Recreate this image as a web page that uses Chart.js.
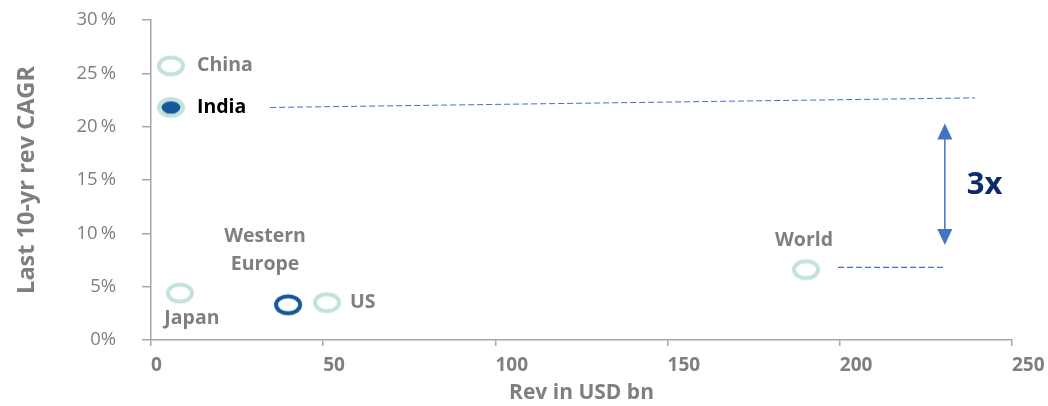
<!DOCTYPE html>
<html><head><meta charset="utf-8">
<script src="https://cdn.jsdelivr.net/npm/chart.js@4.4.1/dist/chart.umd.min.js"></script>
<style>html,body{margin:0;padding:0;background:#fff}#wrap{width:1048px;height:406px;position:relative}</style>
</head><body><div id="wrap"><canvas id="c" width="1048" height="406"></canvas></div>
<script>
const categories = ['China', 'India', 'Japan', 'Western Europe', 'US', 'World'];
const revenueUsdBn = [5.8, 5.8, 8.4, 39.8, 51.1, 190.2];
const cagrPct = [25.7, 21.8, 4.4, 3.3, 3.5, 6.6];
const xTicks = [0, 50, 100, 150, 200, 250];
const yTicks = [0, 5, 10, 15, 20, 25, 30];
const indiaGuideX = [34.6, 239.3];
const indiaGuideY = [21.8, 22.7];
const worldGuideX = [199.5, 230.5];
const worldGuideY = [6.8, 6.8];
const arrowX = 230.5;
const arrowY = [20.3, 8.9];
const multipleLabel = '3x';

const TEAL = '#c4e2db', DARK = '#15589a', GREY = '#7f7f7f', GUIDE = '#4472c4';
function ring(stroke, fill) {
  const c = document.createElement('canvas');
  c.width = 30; c.height = 24;
  const x = c.getContext('2d');
  x.beginPath(); x.ellipse(15, 12, 12, 8.5, 0, 0, Math.PI * 2);
  x.fillStyle = '#fff'; x.fill();
  x.lineWidth = 4; x.strokeStyle = stroke; x.stroke();
  if (fill) { x.beginPath(); x.ellipse(15, 12, 9.5, 6.3, 0, 0, Math.PI * 2); x.fillStyle = fill; x.fill(); }
  return c;
}
const styleFor = {China: ring(TEAL), India: ring(TEAL, DARK), Japan: ring(TEAL), 'Western Europe': ring(DARK), US: ring(TEAL), World: ring(TEAL)};

const labelCfg = {
  China: {dx: 26, dy: 0, align: 'left', color: GREY},
  India: {dx: 26, dy: 0, align: 'left', color: '#000'},
  Japan: {dx: 12, dy: 25, align: 'center', color: GREY},
  'Western Europe': {dx: -23, dy: -68, align: 'center', color: GREY, lines: ['Western', 'Europe'], lh: 28},
  US: {dx: 23, dy: 0, align: 'left', color: GREY},
  World: {dx: -2, dy: -29, align: 'center', color: GREY}
};

const annot = {
  id: 'annot',
  afterDatasetsDraw(chart) {
    const ctx = chart.ctx, xs = chart.scales.x, ys = chart.scales.y;
    const meta = chart.getDatasetMeta(0);
    ctx.save();
    ctx.font = 'bold 19.5px "Open Sans"';
    ctx.textBaseline = 'middle';
    meta.data.forEach((pt, i) => {
      const name = categories[i], cfg = labelCfg[name];
      ctx.fillStyle = cfg.color; ctx.textAlign = cfg.align;
      const lines = cfg.lines || [name];
      lines.forEach((l, j) => ctx.fillText(l, pt.x + cfg.dx, pt.y + cfg.dy + j * (cfg.lh || 0)));
    });
    const ax = xs.getPixelForValue(arrowX);
    const y1 = ys.getPixelForValue(arrowY[0]), y2 = ys.getPixelForValue(arrowY[1]);
    ctx.strokeStyle = GUIDE; ctx.fillStyle = GUIDE; ctx.lineWidth = 1.5;
    ctx.beginPath(); ctx.moveTo(ax, y1 + 14); ctx.lineTo(ax, y2 - 14); ctx.stroke();
    ctx.beginPath(); ctx.moveTo(ax, y1); ctx.lineTo(ax - 7.5, y1 + 16); ctx.lineTo(ax + 7.5, y1 + 16); ctx.closePath(); ctx.fill();
    ctx.beginPath(); ctx.moveTo(ax, y2); ctx.lineTo(ax - 7.5, y2 - 16); ctx.lineTo(ax + 7.5, y2 - 16); ctx.closePath(); ctx.fill();
    ctx.font = 'bold 31px "Open Sans"'; ctx.fillStyle = '#0d2b6b'; ctx.textAlign = 'left';
    ctx.fillText(multipleLabel, ax + 22, (y1 + y2) / 2 + 1);
    ctx.restore();
  }
};

new Chart(document.getElementById('c'), {
  type: 'scatter',
  data: {
    datasets: [
      {data: revenueUsdBn.map((v, i) => ({x: v, y: cagrPct[i]})), pointStyle: categories.map(n => styleFor[n]), pointRadius: 12},
      {data: indiaGuideX.map((v, i) => ({x: v, y: indiaGuideY[i]})), showLine: true, pointRadius: 0, borderColor: GUIDE, borderWidth: 1, borderDash: [6, 3]},
      {data: worldGuideX.map((v, i) => ({x: v, y: worldGuideY[i]})), showLine: true, pointRadius: 0, borderColor: GUIDE, borderWidth: 1.2, borderDash: [6, 3]}
    ]
  },
  options: {
    responsive: false, animation: false, events: [],
    layout: {padding: {top: 20, right: 36, bottom: 0, left: 0}},
    plugins: {legend: {display: false}, tooltip: {enabled: false}},
    scales: {
      x: {
        type: 'linear', min: 0, max: 250,
        afterBuildTicks: s => { s.ticks = xTicks.map(v => ({value: v})); },
        afterFit: s => { s.height = 66; s.paddingLeft = 0; s.paddingRight = 0; },
        grid: {drawOnChartArea: false, drawTicks: true, tickLength: 6, color: '#a6a6a6', lineWidth: 1.5},
        border: {color: '#a6a6a6', width: 1.5},
        ticks: {color: GREY, font: {family: 'Open Sans', weight: 'bold', size: 19}, padding: 8, maxRotation: 0, align: 'start', labelOffset: 0},
        title: {display: true, text: 'Rev in USD bn', color: GREY, font: {family: 'Open Sans', weight: 'bold', size: 21}, padding: {top: 0, bottom: 0}}
      },
      y: {
        type: 'linear', min: 0, max: 30,
        afterBuildTicks: s => { s.ticks = yTicks.map(v => ({value: v})); },
        afterFit: s => { s.width = 151; s.paddingTop = 0; s.paddingBottom = 0; },
        grid: {drawOnChartArea: false, drawTicks: true, tickLength: 9, color: '#a6a6a6', lineWidth: 1.5},
        border: {color: '#a6a6a6', width: 1.5},
        ticks: {color: GREY, font: {family: 'Open Sans', size: 18.5}, padding: 26, callback: v => (v >= 10 ? v + '\u2009%' : v + '%')},
        title: {display: true, text: 'Last 10-yr rev CAGR', color: GREY, font: {family: 'Open Sans', weight: 'bold', size: 23.5}, padding: {top: 13, bottom: 0}}
      }
    }
  },
  plugins: [annot]
});
</script></body></html>
